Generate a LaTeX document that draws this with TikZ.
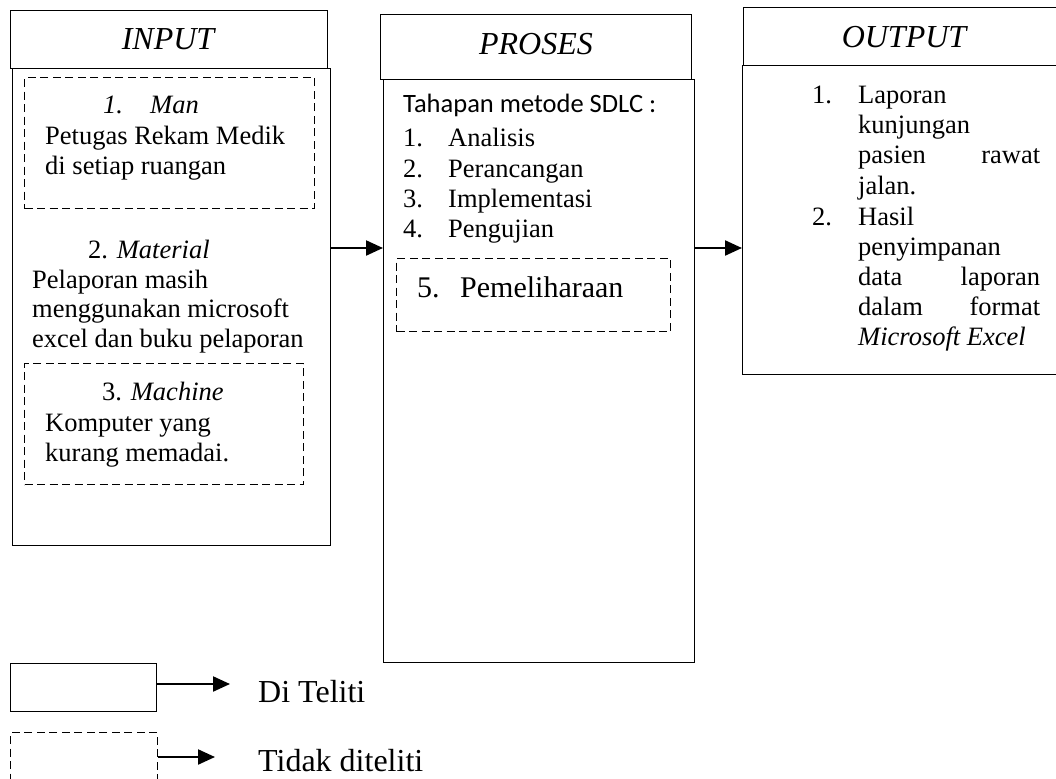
\documentclass[tikz,border=0pt]{standalone}
\usepackage{fontspec}
\setmainfont{Liberation Serif}
\newfontfamily\calfont{Carlito}
\usetikzlibrary{arrows.meta}
\tikzset{
  box/.style={draw, line width=1.4pt, inner sep=0pt, anchor=north west},
  dbox/.style={draw, line width=1.4pt, dash pattern=on 8pt off 4.5pt, inner sep=0pt, anchor=north west},
  txt/.style={anchor=base west, inner sep=0pt, font=\fontsize{26.5}{30}\selectfont},
  bigtxt/.style={anchor=base west, inner sep=0pt, font=\fontsize{30}{34}\selectfont},
  hdr/.style={anchor=base, inner sep=0pt, font=\fontsize{32}{36}\selectfont\itshape},
  legtxt/.style={anchor=base west, inner sep=0pt, font=\fontsize{32}{36}\selectfont},
  arr/.style={-{Triangle[length=17pt,width=15pt]}, line width=2.2pt}
}
\begin{document}
\begin{tikzpicture}[x=1pt,y=-1pt]
\useasboundingbox (0,0) rectangle (1056,778);
% INPUT
\node[box, minimum width=318pt, minimum height=477pt] (inbody) at (12,68) {};
\node[box, minimum width=317pt, minimum height=58pt] (inhead) at (10,10) {};
\node[hdr] (inlabel) at (168,50) {INPUT};
\node[dbox, minimum width=290pt, minimum height=131pt] (dman) at (24,77) {};
\node[txt] (man1) at (103,114) {\itshape 1.};
\node[txt] (man2) at (150,114) {\itshape Man};
\node[txt] (man3) at (45,145) {Petugas Rekam Medik};
\node[txt] (man4) at (45,175) {di setiap ruangan};
\node[txt] (mat1) at (88,258) {2. \itshape Material};
\node[txt] (mat2) at (32,288) {Pelaporan masih};
\node[txt] (mat3) at (32,317) {menggunakan microsoft};
\node[txt] (mat4) at (32,347) {excel dan buku pelaporan};
\node[dbox, minimum width=279pt, minimum height=121pt] (dmach) at (24,363) {};
\node[txt] (mac1) at (102,400) {3. \itshape Machine};
\node[txt] (mac2) at (45,431) {Komputer yang};
\node[txt] (mac3) at (45,461) {kurang memadai.};
% PROSES
\node[box, minimum width=311pt, minimum height=583pt] (prbody) at (383,79) {};
\node[box, minimum width=311pt, minimum height=65pt] (prhead) at (380,14) {};
\node[hdr] (prlabel) at (536,55) {PROSES};
\node[txt, font=\calfont\fontsize{26.5}{30}\selectfont] (pr0) at (403,113) {Tahapan metode SDLC :};
\node[txt] (pr1n) at (403,147) {1.};
\node[txt] (pr1) at (448,147) {Analisis};
\node[txt] (pr2n) at (403,177) {2.};
\node[txt] (pr2) at (448,177) {Perancangan};
\node[txt] (pr3n) at (403,207) {3.};
\node[txt] (pr3) at (448,207) {Implementasi};
\node[txt] (pr4n) at (403,237) {4.};
\node[txt] (pr4) at (448,237) {Pengujian};
\node[dbox, minimum width=274pt, minimum height=73pt] (dpem) at (396,258) {};
\node[bigtxt] (pr5n) at (417,297) {5.};
\node[bigtxt] (pr5) at (460,297) {Pemeliharaan};
% OUTPUT
\node[box, minimum width=330pt, minimum height=309pt] (outbody) at (742,65) {};
\node[box, minimum width=330pt, minimum height=58pt] (outhead) at (743,7) {};
\node[hdr] (outlabel) at (904,48) {OUTPUT};
\node[txt] (o1n) at (812,104) {1.};
\node[txt] (o1) at (858,104) {Laporan};
\node[txt] (o2) at (858,134) {kunjungan};
\node[txt] (o3) at (858,164) {\makebox[182pt][s]{pasien rawat}};
\node[txt] (o4) at (858,194) {jalan.};
\node[txt] (o5n) at (812,225) {2.};
\node[txt] (o5) at (858,225) {Hasil};
\node[txt] (o6) at (858,255) {penyimpanan};
\node[txt] (o7) at (858,285) {\makebox[182pt][s]{data laporan}};
\node[txt] (o8) at (858,315) {\makebox[182pt][s]{dalam format}};
\node[txt] (o9) at (858,345) {\itshape Microsoft Excel};
% connectors
\coordinate (a1) at (330,248);
\coordinate (a2) at (694,248);
\draw[arr] (a1) -- (prbody.west |- a1);
\draw[arr] (a2) -- (outbody.west |- a2);
% legend
\node[box, minimum width=146pt, minimum height=48pt] (legsolid) at (10,663) {};
\node[dbox, minimum width=147pt, minimum height=90pt] (legdash) at (10,732) {};
\coordinate (l1) at (230,684);
\coordinate (l2) at (215,757);
\draw[arr] (legsolid.east |- l1) -- (l1);
\draw[arr] (legdash.east |- l2) -- (l2);
\node[legtxt] (leg1) at (258,702) {Di Teliti};
\node[legtxt] (leg2) at (258,771) {Tidak diteliti};
\end{tikzpicture}
\end{document}
